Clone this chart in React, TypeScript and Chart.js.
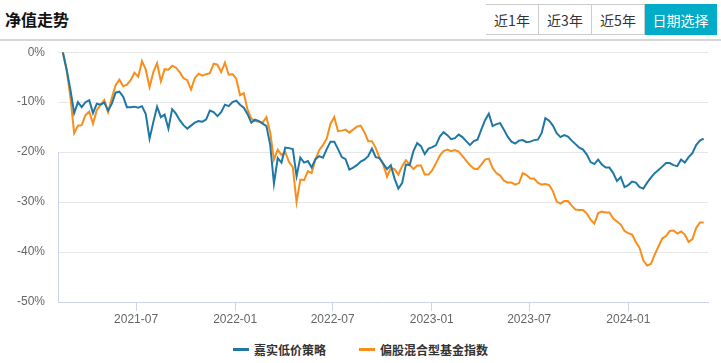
import React, { useEffect, useRef } from "react";
import { Chart, registerables } from "chart.js";

Chart.register(...registerables);

const seriesNames = ["嘉实低价策略", "偏股混合型基金指数"];
const seriesColors = ["#1f78a4", "#f98e1c"];
const buttonLabels = ["近1年", "近3年", "近5年", "日期选择"];

// weekly observations starting 2021-02-15
const startDate = "2021-02-15";
const stepDays = 7;

const fundValues = [
  0, -3.5, -7.5, -12.2, -10.0, -11, -10, -9.6, -12.2, -10.3,
  -10.5, -10.1, -11.7, -10.3, -8.1, -7.9, -8.9, -11, -11, -10.9,
  -11.1, -10.8, -12.4, -17.3, -14, -10.9, -13, -12.5, -15.3, -11.4,
  -12.3, -13.6, -14.6, -15.3, -14.7, -14.1, -13.8, -13.9, -13.5, -11.7,
  -12, -12.8, -12, -10.5, -10.8, -10.0, -9.7, -10.5, -11.1, -12.4,
  -14.1, -13.5, -13.8, -14.3, -14.8, -18.5, -26.3, -21.2, -22.1, -19.1,
  -19.2, -19.4, -24.8, -21.1, -22.1, -21.8, -23.1, -21.4, -20.8, -21.1,
  -19.4, -17.9, -17.9, -19.4, -21, -21.4, -23.5, -23.1, -22.6, -21.9,
  -21.5, -20.8, -19.3, -21.0, -21.2, -22.3, -23.4, -22.6, -25.3, -27.3,
  -26.2, -22.5, -22.6, -19.8, -18.2, -18.8, -20.4, -19.3, -19, -18.6,
  -16.9, -16, -16.6, -17.4, -17.2, -16.5, -17, -17.8, -18.6, -17.8,
  -17.5, -15.5, -13.6, -12.3, -14.8, -14.4, -14.2, -15.5, -16.9, -17.9,
  -18.3, -17.7, -17.6, -18, -17.9, -17.6, -17.5, -16.2, -13.2, -13.7,
  -14.7, -16.2, -17, -16.6, -16.9, -17.7, -18.4, -19.1, -19.5, -20.5,
  -22, -22.4, -21.5, -22.5, -23.1, -23.1, -24.2, -25.8, -25, -27,
  -26.6, -25.9, -26.1, -27, -27.3, -26.1, -25.1, -24.2, -23.6, -22.9,
  -22.2, -22.2, -22.6, -22.8, -21.5, -22.1, -21, -20.2, -18.6, -17.7,
  -17.3,
];

const indexValues = [
  0, -3.5, -9, -16.2, -14.7, -14.6, -12.6, -11.9, -14.3, -11.6,
  -10.5, -9.6, -12, -9.1, -6.6, -5.5, -6.8, -6.5, -5.6, -4.1,
  -4.9, -1.8, -3.5, -7.0, -4, -2.2, -5.8, -3.4, -3.5, -2.7,
  -3.1, -4, -5.2, -5.6, -7.5, -5.2, -4.3, -4.7, -4.4, -4.2,
  -2.3, -2.5, -4, -2.1, -4.5, -4.4, -5.3, -8.6, -8.2, -11.5,
  -13.3, -13.8, -13.9, -14.1, -13, -16, -21.5, -19.5, -20.6, -20,
  -22, -23, -30.0, -25.5, -25.6, -23.8, -24.2, -21.5, -19.6, -18.6,
  -17.3, -14.3, -13, -15.8, -15.7, -15.5, -16.1, -15.5, -14.9, -14.7,
  -16, -17.8, -17.8, -19.2, -21.1, -22.5, -24.9, -23.2, -23.4, -24.5,
  -22.8, -21.6, -22.5, -23.4, -22.7, -22.7, -24.5, -24.5, -23.6, -22.2,
  -20.7, -19.8, -19.5, -19.8, -19.6, -19.9, -20.8, -21.7, -22.6, -23.3,
  -23.4, -22.5, -21.5, -21.3, -23.2, -24.2, -24.7, -25.7, -26.1, -26.1,
  -26.5, -26.2, -24.2, -24.6, -25.3, -25.3, -26.1, -26.5, -26.4, -26.6,
  -27.8, -29.9, -30.3, -29.8, -29.8, -30.7, -31.5, -31.6, -31.6, -32.3,
  -33.5, -34.3, -32.2, -31.9, -32.1, -32.1, -33.3, -33.9, -34.5, -35.8,
  -36.2, -36.5, -38, -39.2, -41.7, -42.7, -42.4, -40.5, -38.9, -37.3,
  -36.8, -35.8, -35.7, -36.3, -35.9, -36.5, -38, -37.4, -35.2, -34.1,
  -34.1,
];

const xTickLabels = ["2021-07", "2022-01", "2022-07", "2023-01", "2023-07", "2024-01"];
const xAxisMinDate = "2021-02-06";
const xAxisMaxDate = "2024-05-28";
const yMin = -50;
const yMax = 0;
const yStep = 10;
const yAxisLineFrom = -20;

const dayNum = (s: string) => {
  const p = s.split("-").map(Number);
  return Date.UTC(p[0], p[1] - 1, p[2] || 1) / 86400000;
};

const FONT = "'Liberation Sans', Arial, 'Noto Sans CJK SC', sans-serif";

const partialYAxisLine = {
  id: "partialYAxisLine",
  afterDraw(chart: any) {
    const { ctx, chartArea, scales } = chart;
    const yTop = scales.y.getPixelForValue(yAxisLineFrom);
    ctx.save();
    ctx.strokeStyle = "#ccd6eb";
    ctx.lineWidth = 1;
    ctx.beginPath();
    ctx.moveTo(chartArea.left + 0.5, yTop);
    ctx.lineTo(chartArea.left + 0.5, chartArea.bottom);
    ctx.stroke();
    ctx.restore();
  },
};

export default function App() {
  const canvasRef = useRef<HTMLCanvasElement | null>(null);

  useEffect(() => {
    document.body.style.margin = "0";
    const start = dayNum(startDate);
    const toPoints = (vals: number[]) => vals.map((v, i) => ({ x: start + i * stepDays, y: v }));
    const tickValues = xTickLabels.map((l) => dayNum(l + "-01"));

    const chart = new Chart(canvasRef.current as HTMLCanvasElement, {
      type: "line",
      data: {
        datasets: [
          {
            label: seriesNames[0],
            data: toPoints(fundValues),
            borderColor: seriesColors[0],
            backgroundColor: seriesColors[0],
            borderWidth: 2,
            pointRadius: 0,
            tension: 0,
          },
          {
            label: seriesNames[1],
            data: toPoints(indexValues),
            borderColor: seriesColors[1],
            backgroundColor: seriesColors[1],
            borderWidth: 2,
            pointRadius: 0,
            tension: 0,
          },
        ],
      },
      options: {
        animation: false,
        responsive: false,
        layout: { padding: { top: 2, right: 13, left: 0, bottom: 0 } },
        plugins: { legend: { display: false }, tooltip: { enabled: false } },
        scales: {
          x: {
            type: "linear",
            min: dayNum(xAxisMinDate),
            max: dayNum(xAxisMaxDate),
            afterBuildTicks: (scale: any) => {
              scale.ticks = tickValues.map((v) => ({ value: v }));
            },
            afterFit: (scale: any) => {
              scale.height = 29;
            },
            ticks: {
              autoSkip: false,
              maxRotation: 0,
              padding: 1,
              color: "#666666",
              font: { family: FONT, size: 12 },
              callback: (v: any) => {
                const idx = tickValues.indexOf(Number(v));
                return idx >= 0 ? xTickLabels[idx] : "";
              },
            },
            grid: {
              drawOnChartArea: false,
              drawTicks: true,
              tickLength: 9,
              color: "#ccd6eb",
            },
            border: { display: true, color: "#ccd6eb", width: 1 },
          },
          y: {
            type: "linear",
            min: yMin,
            max: yMax,
            afterFit: (scale: any) => {
              scale.width = 58;
            },
            ticks: {
              stepSize: yStep,
              padding: 13,
              color: "#666666",
              font: { family: FONT, size: 12 },
              callback: (v: any) => v + "%",
            },
            grid: {
              drawTicks: false,
              color: (c: any) => (c.tick && c.tick.value === yMin ? "rgba(0,0,0,0)" : "#e6e6e6"),
            },
            border: { display: false },
          },
        },
      },
      plugins: [partialYAxisLine],
    } as any);
    return () => chart.destroy();
  }, []);

  return (
    <div style={{ position: "relative", width: 721, height: 363, background: "#fff", fontFamily: FONT, overflow: "hidden" }}>
      <div
        style={{
          position: "absolute",
          left: 5,
          top: 8,
          fontSize: 16,
          fontWeight: "bold",
          color: "#111",
          lineHeight: "22px",
          fontFamily: "'Noto Sans CJK SC', sans-serif",
        }}
      >
        净值走势
      </div>
      <div style={{ position: "absolute", left: 486, top: 4, display: "flex", height: 31 }}>
        {buttonLabels.map((b, i) => {
          const active = i === buttonLabels.length - 1;
          return (
            <div
              key={b}
              style={{
                width: active ? 72 : 53,
                height: 31,
                boxSizing: "border-box",
                border: "1px solid " + (active ? "#00acc8" : "#cccccc"),
                borderLeft: i === 0 || active ? undefined : "none",
                background: active ? "#00acc8" : "#ffffff",
                color: active ? "#ffffff" : "#333333",
                fontSize: 14,
                display: "flex",
                alignItems: "center",
                justifyContent: "center",
                fontFamily: "'Noto Sans CJK SC', sans-serif",
              }}
            >
              {b}
            </div>
          );
        })}
      </div>
      <div style={{ position: "absolute", left: 0, top: 39, width: 721, height: 2, background: "#d6d6d6" }} />
      <canvas ref={canvasRef} width={721} height={299} style={{ position: "absolute", left: 0, top: 32, width: 721, height: 299 }} />
      <div
        style={{
          position: "absolute",
          left: 0,
          top: 340,
          width: 721,
          height: 18,
          display: "flex",
          justifyContent: "center",
          alignItems: "center",
        }}
      >
        {seriesNames.map((n, i) => (
          <div key={n} style={{ display: "flex", alignItems: "center", marginLeft: i === 0 ? 0 : 33 }}>
            <div style={{ width: 16, height: 3, background: seriesColors[i], marginRight: 5 }} />
            <span style={{ fontSize: 12, fontWeight: "bold", color: "#333333", fontFamily: "'Noto Sans CJK SC', sans-serif" }}>{n}</span>
          </div>
        ))}
      </div>
    </div>
  );
}
